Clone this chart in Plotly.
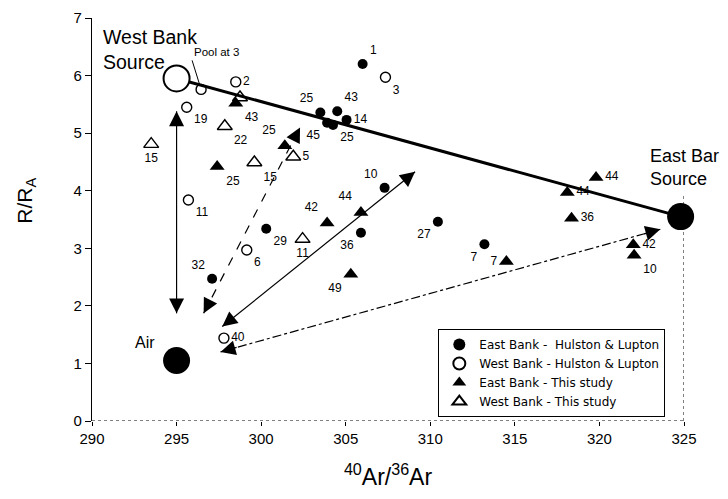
import plotly.graph_objects as go

# ---------------- data ----------------
# East Bank - Hulston & Lupton (filled circles)
ebh_x = [306.0, 303.5, 304.5, 303.9, 304.25, 305.05, 307.3, 300.3, 297.1, 305.9, 310.45, 313.2]
ebh_y = [6.20, 5.36, 5.38, 5.18, 5.14, 5.23, 4.05, 3.34, 2.47, 3.27, 3.46, 3.07]
ebh_lab = ["1", "25", "43", "45", "25", "14", "10", "29", "32", "36", "27", "7"]

# West Bank - Hulston & Lupton (open circles)
wbh_x = [296.45, 298.5, 307.35, 295.6, 295.7, 299.15, 297.8]
wbh_y = [5.76, 5.89, 5.97, 5.45, 3.84, 2.97, 1.44]
wbh_lab = ["", "2", "3", "19", "11", "6", "40"]

# East Bank - This study (filled triangles)
ebt_x = [298.5, 297.4, 301.4, 303.9, 305.9, 305.3, 314.5, 319.8, 318.1, 318.35, 322.0, 322.05]
ebt_y = [5.52, 4.42, 4.78, 3.44, 3.62, 2.55, 2.77, 4.23, 3.97, 3.52, 3.06, 2.88]
ebt_lab = ["43", "25", "25", "42", "44", "49", "7", "44", "44", "36", "42", "10"]

# West Bank - This study (open triangles)
wbt_x = [298.75, 297.85, 293.5, 299.6, 301.9, 302.45]
wbt_y = [5.62, 5.12, 4.81, 4.49, 4.59, 3.16]
wbt_lab = ["", "22", "15", "15", "5", "11"]

# end members
src_names = ["West Bank Source", "East Bar Source", "Air"]
src_x = [295.0, 324.8, 295.0]
src_y = [5.95, 3.55, 1.05]

# mixing arrows (start, end)
arrow_x0 = [295.0, 296.6, 297.7, 297.6]
arrow_y0 = [1.87, 1.87, 1.64, 1.20]
arrow_x1 = [295.0, 302.3, 309.1, 323.6]
arrow_y1 = [5.38, 5.10, 4.33, 3.33]

x_ticks = [290, 295, 300, 305, 310, 315, 320, 325]
y_ticks = [0, 1, 2, 3, 4, 5, 6, 7]

# ---------------- styles ----------------
ebh_pos = ["top right", "top left", "top right", "bottom left", "bottom right", "middle right",
           "top left", "bottom right", "top left", "bottom left", "bottom left", "bottom left"]
wbh_pos = ["top right", "middle right", "bottom right", "bottom right", "bottom right",
           "bottom right", "middle right"]
ebt_pos = ["bottom right", "bottom right", "top left", "top left", "top left", "bottom left",
           "middle left", "middle right", "middle right", "middle right", "middle right", "bottom right"]
wbt_pos = ["top right", "bottom right", "bottom center", "bottom right", "middle right", "bottom center"]
arrow_dash = ["solid", "dash", "solid", "dashdot"]

LBL = dict(family="Liberation Sans, Arial", size=12, color="black")

fig = go.Figure()

# source mixing line
fig.add_trace(go.Scatter(x=[src_x[0], src_x[1]], y=[src_y[0], src_y[1]], mode="lines",
                         line=dict(color="black", width=3), showlegend=False, hoverinfo="skip"))

# arrows: line + heads at both ends
for i in range(len(arrow_x0)):
    fig.add_trace(go.Scatter(x=[arrow_x0[i], arrow_x1[i]], y=[arrow_y0[i], arrow_y1[i]],
                             mode="lines", line=dict(color="black", width=1.2, dash=arrow_dash[i]),
                             showlegend=False, hoverinfo="skip"))
    for (tx, ty, ox, oy) in [(arrow_x1[i], arrow_y1[i], arrow_x0[i], arrow_y0[i]),
                             (arrow_x0[i], arrow_y0[i], arrow_x1[i], arrow_y1[i])]:
        f = 0.04
        fig.add_annotation(x=tx, y=ty, ax=tx + (ox - tx) * f, ay=ty + (oy - ty) * f,
                           xref="x", yref="y", axref="x", ayref="y", text="",
                           showarrow=True, arrowhead=2, arrowsize=2.3, arrowwidth=1.3,
                           arrowcolor="black", standoff=0, startstandoff=0)

# data series
fig.add_trace(go.Scatter(x=ebh_x, y=ebh_y, mode="markers+text", name="East Bank -  Hulston & Lupton",
                         text=ebh_lab, textposition=ebh_pos, textfont=LBL,
                         marker=dict(symbol="circle", size=10, color="black")))
fig.add_trace(go.Scatter(x=wbh_x, y=wbh_y, mode="markers+text", name="West Bank - Hulston & Lupton",
                         text=wbh_lab, textposition=wbh_pos, textfont=LBL,
                         marker=dict(symbol="circle-open", size=10, color="black", line=dict(width=1.4))))
fig.add_trace(go.Scatter(x=ebt_x, y=ebt_y, mode="markers+text", name="East Bank - This study",
                         text=ebt_lab, textposition=ebt_pos, textfont=LBL,
                         marker=dict(symbol="triangle-up", size=13, color="black")))
fig.add_trace(go.Scatter(x=wbt_x, y=wbt_y, mode="markers+text", name="West Bank - This study",
                         text=wbt_lab, textposition=wbt_pos, textfont=LBL,
                         marker=dict(symbol="triangle-up-open", size=13, color="black", line=dict(width=1.4))))

# end members
fig.add_trace(go.Scatter(x=[src_x[0]], y=[src_y[0]], mode="markers", showlegend=False,
                         marker=dict(symbol="circle", size=26, color="white", line=dict(color="black", width=2)),
                         cliponaxis=False, hoverinfo="skip"))
fig.add_trace(go.Scatter(x=src_x[1:], y=src_y[1:], mode="markers", showlegend=False,
                         marker=dict(symbol="circle", size=27, color="black"),
                         cliponaxis=False, hoverinfo="skip"))

fig.add_annotation(x=src_x[0], y=src_y[0], text="West Bank<br>Source", showarrow=False,
                   xanchor="left", yanchor="bottom", align="left", xshift=-76, yshift=3,
                   font=dict(family="Liberation Sans, Arial", size=19.5, color="black"))
fig.add_annotation(x=src_x[1], y=src_y[1], text="East Bar<br>Source", showarrow=False,
                   xanchor="left", yanchor="bottom", align="left", xshift=-33, yshift=26,
                   font=dict(family="Liberation Sans, Arial", size=18, color="black"))
fig.add_annotation(x=src_x[2], y=src_y[2], text="Air", showarrow=False,
                   xanchor="right", yanchor="bottom", xshift=-20, yshift=8,
                   font=dict(family="Liberation Sans, Arial", size=16, color="black"))
fig.add_annotation(x=wbh_x[0], y=wbh_y[0], text="Pool at 3", showarrow=True,
                   ax=-9, ay=-29, arrowhead=0, arrowwidth=1, arrowcolor="black",
                   standoff=5, font=dict(family="Liberation Sans, Arial", size=11.5, color="black"),
                   xanchor="left", yanchor="bottom")

# y-axis title (placed slightly above the axis centre as in the original)
fig.add_annotation(xref="paper", yref="paper", x=-0.112, y=0.546, text="R/R<sub>A</sub>",
                   showarrow=False, textangle=-90, xanchor="center", yanchor="middle",
                   font=dict(family="Liberation Sans, Arial", size=21, color="black"))

# frame pieces
fig.add_shape(type="line", xref="x", yref="y", x0=290, x1=325, y0=0, y1=0,
              line=dict(color="black", width=1, dash="dot"))
fig.add_shape(type="line", xref="x", yref="y", x0=325, x1=325, y0=0, y1=3.96,
              line=dict(color="black", width=1, dash="dot"))

fig.update_layout(
    width=720, height=491,
    margin=dict(l=84, r=44, t=10, b=78, autoexpand=False),
    plot_bgcolor="white", paper_bgcolor="white",
    font=dict(family="Liberation Sans, Arial", color="black"),
    legend=dict(x=0.585, y=0.119, xanchor="left", yanchor="middle",
                bordercolor="black", borderwidth=1, bgcolor="white",
                font=dict(family="DejaVu Sans", size=12, color="black"),
                tracegroupgap=0, itemsizing="constant", entrywidth=228, entrywidthmode="pixels"),
    xaxis=dict(range=[290, 325], tickvals=x_ticks, showgrid=False, zeroline=False, automargin=False,
               showline=False, ticks="outside", ticklen=4, tickcolor="black",
               tickfont=dict(size=15, family="Liberation Sans, Arial"),
               title=dict(text="<sup>40</sup>Ar/<sup>36</sup>Ar", font=dict(size=23), standoff=22)),
    yaxis=dict(range=[0, 7], tickvals=y_ticks, showgrid=False, zeroline=False, automargin=False,
               showline=True, linecolor="black", linewidth=1.2, ticks="outside", ticklen=6,
               tickcolor="black", tickfont=dict(size=15, family="Liberation Sans, Arial")),
    showlegend=True,
)

fig.write_html("out.html")
